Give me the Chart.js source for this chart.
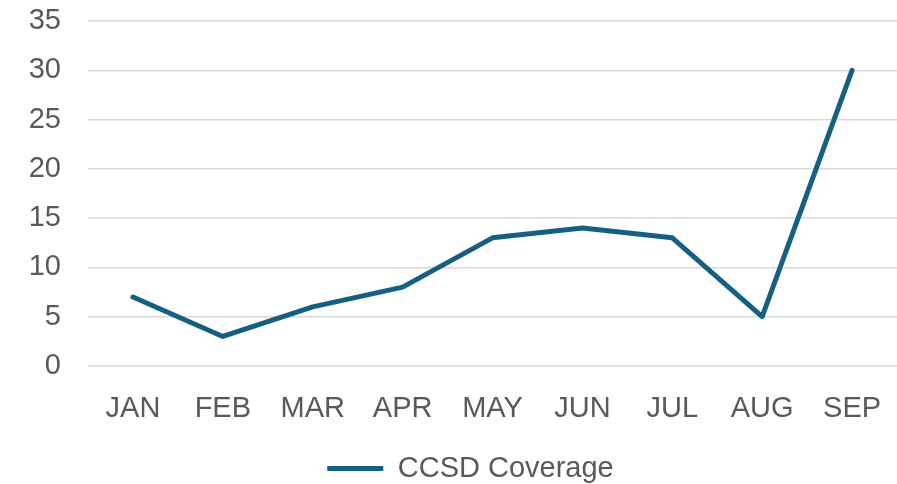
<!DOCTYPE html>
<html>
<head>
<meta charset="utf-8">
<script src="https://cdn.jsdelivr.net/npm/chart.js@4/dist/chart.umd.min.js"></script>
<style>
  html, body { margin: 0; padding: 0; background: #fff; }
  #wrap { width: 897px; height: 484px; position: relative; }
</style>
</head>
<body>
<div id="wrap"><canvas id="chart"></canvas></div>
<script>
// Données
var months = ['JAN', 'FEB', 'MAR', 'APR', 'MAY', 'JUN', 'JUL', 'AUG', 'SEP'];
var coverage = [7, 3, 6, 8, 13, 14, 13, 5, 30];
var seriesName = 'CCSD Coverage';
var yMin = 0, yMax = 35, yStep = 5;

var lineColor = '#156082';
var textColor = '#595959';
var gridColor = '#d9d9d9';
var fontFamily = '"Liberation Sans", Arial, sans-serif';

// Décale la légende vers la droite (comme dans l'original)
var legendShift = {
    id: 'legendShift',
    afterLayout: function (chart) {
        if (chart.legend) {
            chart.legend.left += 22;
            chart.legend.right += 22;
        }
    }
};

new Chart(document.getElementById('chart'), {
    type: 'line',
    data: {
        labels: months,
        datasets: [{
            label: seriesName,
            data: coverage,
            borderColor: lineColor,
            backgroundColor: lineColor,
            borderWidth: 5,
            borderCapStyle: 'round',
            borderJoinStyle: 'round',
            pointRadius: 0,
            pointHoverRadius: 0,
            pointStyle: 'line',
            tension: 0
        }]
    },
    options: {
        responsive: true,
        maintainAspectRatio: false,
        animation: false,
        layout: { padding: { top: 0, right: 0, bottom: -9, left: 0 } },
        plugins: {
            legend: {
                position: 'bottom',
                labels: {
                    usePointStyle: true,
                    pointStyleWidth: 56,
                    padding: 0,
                    color: textColor,
                    font: { family: fontFamily, size: 29 }
                }
            },
            tooltip: { enabled: false }
        },
        scales: {
            x: {
                offset: true,
                grid: { display: false, drawTicks: false },
                border: { display: false },
                ticks: {
                    color: textColor,
                    padding: 26,
                    font: { family: fontFamily, size: 29 }
                },
                afterFit: function (s) {
                    s.height = 88;
                    s.paddingLeft = 0;
                    s.paddingRight = 0;
                }
            },
            y: {
                min: yMin,
                max: yMax,
                ticks: {
                    stepSize: yStep,
                    color: textColor,
                    padding: 27,
                    font: { family: fontFamily, size: 29 }
                },
                grid: { color: gridColor, lineWidth: 1.5, drawTicks: false },
                border: { display: false },
                afterFit: function (s) {
                    s.width = 88;
                    s.paddingTop = 21;
                    s.paddingBottom = 0;
                }
            }
        }
    },
    plugins: [legendShift]
});
</script>
</body>
</html>
